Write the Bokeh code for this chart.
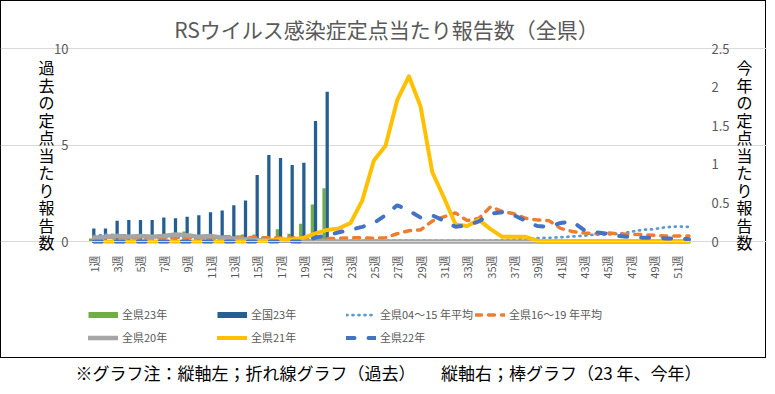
import math
from bokeh.plotting import figure
from bokeh.models import (Range1d, LinearAxis, FixedTicker, Label, Legend, LegendItem,
                          ColumnDataSource)
from bokeh.transform import dodge
from bokeh.embed import file_html
from bokeh.resources import INLINE

FONT = "Noto Sans CJK JP"

# ---------------- data ----------------
weeks = list(range(1, 53))
tick_weeks = list(range(1, 52, 2))
tick_labels = [f"{w}週" for w in tick_weeks]

bar_weeks = list(range(1, 22))
# bars (right axis : this year)
ken23 = [0.04, 0.05, 0.09, 0.06, 0.05, 0.05, 0.05, 0.06, 0.13, 0.05, 0.05,
         0.07, 0.07, 0.09, 0.09, 0.07, 0.16, 0.10, 0.23, 0.48, 0.69]
zenkoku23 = [0.17, 0.17, 0.27, 0.28, 0.28, 0.28, 0.31, 0.30, 0.32, 0.34, 0.38,
             0.40, 0.47, 0.53, 0.86, 1.12, 1.08, 0.99, 1.02, 1.56, 1.94]

# lines (left axis : past)
avg0415 = [0.28, 0.36, 0.34, 0.30, 0.26, 0.24, 0.22, 0.20, 0.18, 0.16, 0.14, 0.12, 0.10,
           0.10, 0.08, 0.08, 0.06, 0.06, 0.05, 0.05, 0.05, 0.04, 0.04, 0.04, 0.04, 0.04,
           0.04, 0.04, 0.04, 0.04, 0.04, 0.04, 0.04, 0.04, 0.05, 0.06, 0.10, 0.14, 0.18,
           0.19, 0.22, 0.26, 0.30, 0.36, 0.36, 0.40, 0.50, 0.60, 0.64, 0.74, 0.78, 0.76]
avg1619 = [0.22, 0.24, 0.20, 0.18, 0.16, 0.16, 0.18, 0.20, 0.22, 0.20, 0.20, 0.24, 0.24,
           0.22, 0.20, 0.20, 0.18, 0.18, 0.16, 0.16, 0.16, 0.16, 0.20, 0.20, 0.16, 0.20,
           0.40, 0.56, 0.60, 1.06, 1.28, 1.48, 1.08, 1.20, 1.80, 1.56, 1.44, 1.20, 1.12,
           1.08, 0.68, 0.52, 0.44, 0.40, 0.44, 0.40, 0.36, 0.36, 0.32, 0.28, 0.28, 0.28]
ken20 = [0.16, 0.24, 0.28, 0.24, 0.28, 0.24, 0.28, 0.36, 0.32, 0.24, 0.28, 0.20, 0.16,
         0.12, 0.08, 0.04, 0.04, 0.04, 0.00, 0.00, 0.00, 0.00, 0.00, 0.00, 0.00, 0.00,
         0.00, 0.00, 0.00, 0.00, 0.00, 0.00, 0.00, 0.00, 0.00, 0.00, 0.00, 0.00, 0.00,
         0.00, 0.00, 0.00, 0.00, 0.00, 0.00, 0.00, 0.00, 0.00, 0.00, 0.00, 0.00, 0.00]
ken21 = [0.00, 0.00, 0.00, 0.00, 0.00, 0.00, 0.00, 0.00, 0.00, 0.00, 0.00, 0.00, 0.00,
         0.00, 0.02, 0.05, 0.12, 0.10, 0.20, 0.42, 0.60, 0.68, 0.96, 2.12, 4.20, 4.96,
         7.32, 8.56, 7.00, 3.60, 2.28, 0.88, 0.80, 1.12, 0.64, 0.24, 0.24, 0.24, 0.04,
         0.02, 0.02, 0.02, 0.02, 0.02, 0.02, 0.02, 0.02, 0.02, 0.02, 0.02, 0.02, 0.02]
ken22 = [0.00, 0.00, 0.00, 0.00, 0.00, 0.00, 0.00, 0.00, 0.00, 0.00, 0.00, 0.00, 0.00,
         0.00, 0.00, 0.00, 0.00, 0.00, 0.00, 0.20, 0.32, 0.48, 0.60, 0.76, 0.96, 1.36,
         1.88, 1.60, 1.24, 1.36, 1.08, 0.76, 0.84, 1.04, 1.44, 1.52, 1.36, 1.08, 0.80,
         0.76, 0.96, 1.04, 0.60, 0.48, 0.40, 0.28, 0.24, 0.20, 0.20, 0.16, 0.16, 0.12]

left_ticks = [0, 5, 10]
right_ticks = [0, 0.5, 1, 1.5, 2, 2.5]
right_tick_labels = ["0", "0.5", "1", "1.5", "2", "2.5"]

title_text = "RSウイルス感染症定点当たり報告数（全県）"
left_title = "過去の定点当たり報告数"
right_title = "今年の定点当たり報告数"
note_text = "※グラフ注：縦軸左；折れ線グラフ（過去）　　縦軸右；棒グラフ（23 年、今年）"

legend_labels = ["全県23年", "全国23年", "全県04～15 年平均", "全県16～19 年平均",
                 "全県20年", "全県21年", "全県22年"]

# ---------------- geometry (pixels) ----------------
W, H = 767, 386
FL, FR, FT, FB = 87, 695, 48, 241        # plotting area
X_LO, X_HI = 0.46, 52.56                  # week range shown inside the plotting area
Y_MAX, R_MAX = 10, 2.5

xs = (FR - FL) / (X_HI - X_LO)
ys = (FB - FT) / Y_MAX
rs = (FB - FT) / R_MAX

p = figure(width=W, height=H,
           x_range=Range1d(X_LO - FL / xs, X_HI + (W - FR) / xs),
           y_range=Range1d(-(H - FB) / ys, Y_MAX + FT / ys),
           output_backend="svg", toolbar_location=None,
           min_border=0, min_border_left=0, min_border_right=0,
           min_border_top=0, min_border_bottom=0)
p.title.text = ""
p.title.visible = False
p.outline_line_color = None
p.background_fill_alpha = 0
p.border_fill_alpha = 0
# white page with the black box around the chart (0..766 x 0..357)
p.styles = {
    "background-color": "white",
    "background-image": ("linear-gradient(#000,#000), linear-gradient(#000,#000), "
                         "linear-gradient(#000,#000), linear-gradient(#000,#000)"),
    "background-size": "766px 1px, 766px 1px, 1px 358px, 1px 358px",
    "background-position": "0px 0px, 0px 357px, 0px 0px, 765px 0px",
    "background-repeat": "no-repeat",
}
p.extra_y_ranges = {"right": Range1d(-(H - FB) / rs, R_MAX + FT / rs)}

p.xgrid.visible = False
p.ygrid.ticker = FixedTicker(ticks=left_ticks)
p.ygrid.grid_line_color = "#D9D9D9"
p.ygrid.bounds = (X_LO, X_HI)

yax = p.yaxis[0]
yax.fixed_location = X_LO
yax.bounds = (0, Y_MAX)
yax.ticker = FixedTicker(ticks=left_ticks)
yax.axis_line_color = None
yax.major_tick_line_color = None
yax.minor_tick_line_color = None
yax.major_label_standoff = 13
yax.major_label_text_font = FONT
yax.major_label_text_font_size = "13px"
yax.major_label_text_color = "#595959"

xax = p.xaxis[0]
xax.fixed_location = 0
xax.bounds = (X_LO, X_HI)
xax.ticker = FixedTicker(ticks=tick_weeks)
xax.major_label_overrides = dict(zip(tick_weeks, tick_labels))
xax.major_label_orientation = math.pi / 2
xax.axis_line_color = "#D9D9D9"
xax.major_tick_line_color = None
xax.minor_tick_line_color = None
xax.major_label_standoff = 8
xax.major_label_text_font = FONT
xax.major_label_text_font_size = "11px"
xax.major_label_text_color = "#595959"

rax = LinearAxis(y_range_name="right", ticker=FixedTicker(ticks=right_ticks),
                 major_label_overrides=dict(zip(right_ticks, right_tick_labels)))
rax.fixed_location = X_HI
rax.bounds = (0, R_MAX)
rax.axis_line_color = None
rax.major_tick_line_color = None
rax.minor_tick_line_color = None
rax.major_label_standoff = 10
rax.major_label_text_font = FONT
rax.major_label_text_font_size = "13px"
rax.major_label_text_color = "#595959"
p.add_layout(rax, "right")

# ---------------- bars ----------------
bsrc = ColumnDataSource(dict(week=bar_weeks, ken23=ken23, zenkoku23=zenkoku23))
p.vbar(x=dodge("week", -0.27), top="ken23", width=0.28, source=bsrc,
       y_range_name="right", fill_color="#70AD47", line_color=None)
p.vbar(x=dodge("week", 0.0), top="zenkoku23", width=0.28, source=bsrc,
       y_range_name="right", fill_color="#255E91", line_color=None)

# ---------------- lines ----------------
r0415 = p.line(weeks, avg0415, line_color="#5B9BD5", line_width=2.75,
               line_dash="1 5", line_cap="round")
r1619 = p.line(weeks, avg1619, line_color="#ED7D31", line_width=3.5,
               line_dash="6 7", line_cap="round")
r20 = p.line(weeks, ken20, line_color="#A5A5A5", line_width=4.5, line_cap="round",
             line_join="round")
r21 = p.line(weeks, ken21, line_color="#FFC000", line_width=4, line_cap="round",
             line_join="round")
r22 = p.line(weeks, ken22, line_color="#4472C4", line_width=4,
             line_dash="8 14", line_cap="round")

# hidden proxies so the bar entries get a flat colour swatch in the legend
rg = p.line("week", "ken23", source=bsrc, y_range_name="right",
            line_color="#70AD47", line_width=6, visible=False)
rb = p.line("week", "zenkoku23", source=bsrc, y_range_name="right",
            line_color="#255E91", line_width=6, visible=False)

renders = [rg, rb, r0415, r1619, r20, r21, r22]
legend = Legend(items=[LegendItem(label=l, renderers=[r])
                       for l, r in zip(legend_labels, renders)],
                ncols=4, orientation="horizontal", location=(88, H - 348.5),
                padding=0, margin=0, spacing=0, border_line_color=None,
                background_fill_alpha=0, glyph_width=30, glyph_height=23,
                label_height=23, label_width=95, label_standoff=4,
                label_text_font=FONT, label_text_font_size="11px",
                label_text_color="#595959")
p.add_layout(legend)

# ---------------- texts ----------------
p.add_layout(Label(x=386, y=H - 28, x_units="screen", y_units="screen",
                   text=title_text, text_align="center", text_baseline="middle",
                   text_font=FONT, text_font_size="21px", text_color="#595959"))

for cx, txt in ((46, left_title), (744, right_title)):
    for i, ch in enumerate(txt):
        p.add_layout(Label(x=cx, y=H - (66.5 + i * 17.5), x_units="screen",
                           y_units="screen", text=ch, text_align="center",
                           text_baseline="middle", text_font=FONT,
                           text_font_size="16px", text_color="black"))

p.add_layout(Label(x=388, y=H - 372, x_units="screen", y_units="screen",
                   text=note_text, text_align="center", text_baseline="middle",
                   text_font=FONT, text_font_size="17px", text_color="black"))

open("out.html", "w").write(file_html(p, INLINE))
